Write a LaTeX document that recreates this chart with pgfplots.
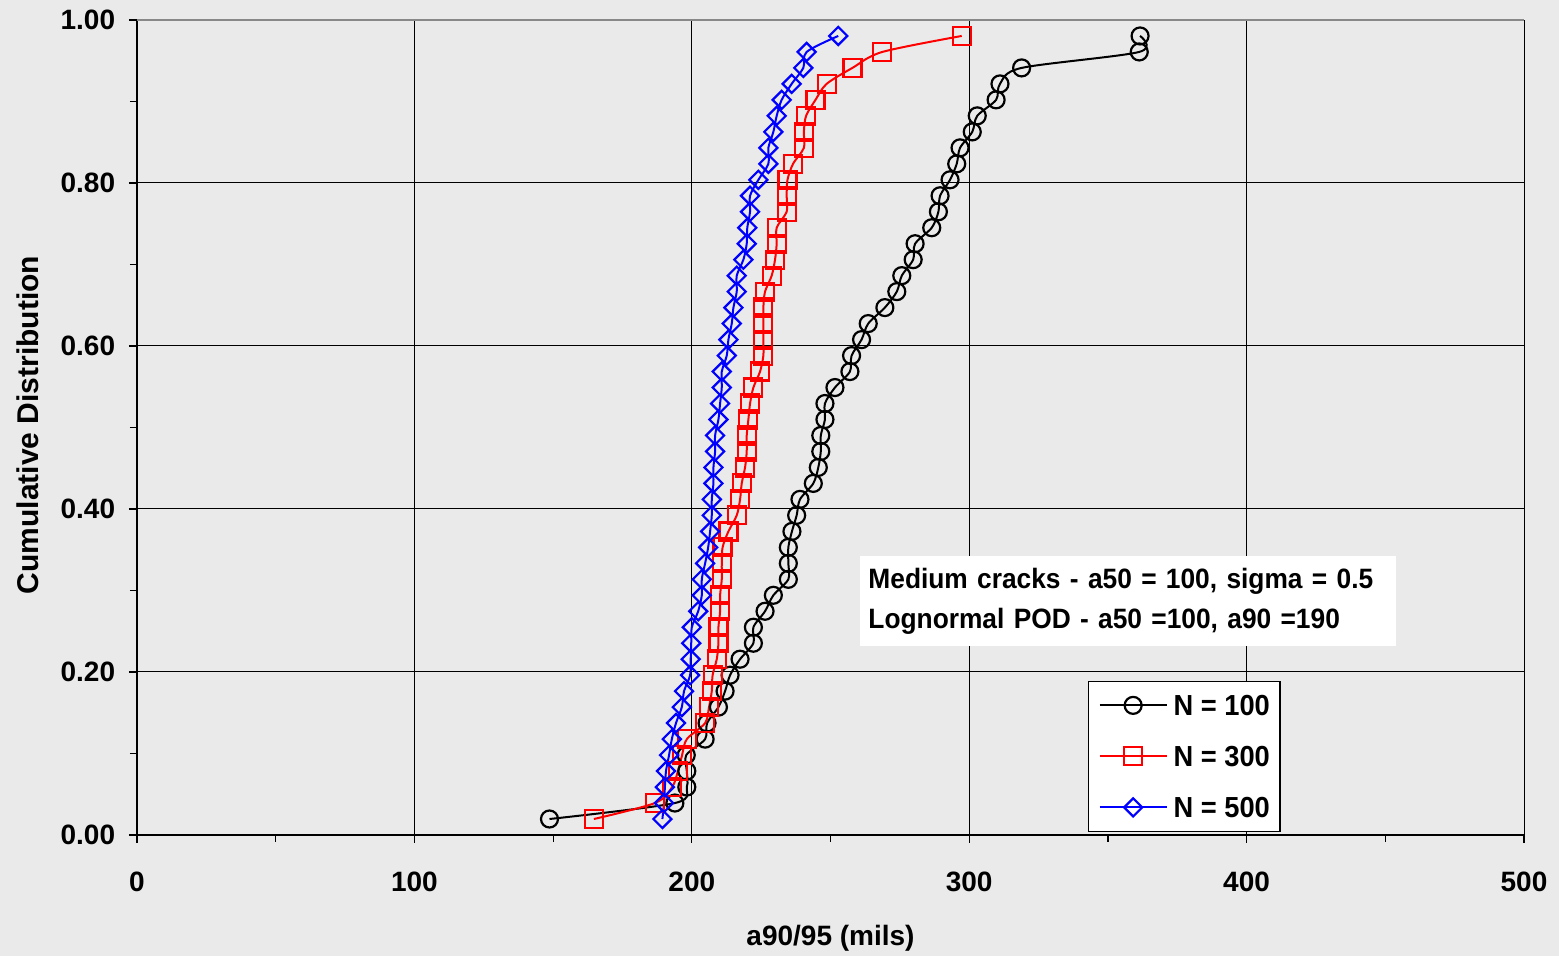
\documentclass[border=0pt]{standalone}
\usepackage{fontspec}
\setmainfont{Liberation Sans}
\newfontfamily\narrowsans{Liberation Sans}[FakeStretch=0.94]
\usepackage{pgfplots}
\usepackage{pgfplotstable}
\pgfplotsset{compat=1.18}
\usetikzlibrary{backgrounds}

\definecolor{panel}{RGB}{234,234,234}
\definecolor{topedge}{RGB}{136,136,136}
\definecolor{seriesred}{RGB}{255,0,0}
\definecolor{seriesblue}{RGB}{0,0,255}

% cumulative probability p = k/51 and sorted a90/95 estimates (mils)
\pgfplotstableread{
p      n100  n300  n500
0.0196 148.7 164.7 189.4
0.0392 193.9 186.7 190.0
0.0588 198.2 192.9 190.3
0.0784 198.2 195.0 190.7
0.0980 198.0 196.5 191.8
0.1176 204.8 198.2 192.8
0.1373 205.5 204.8 194.3
0.1569 209.6 206.2 196.4
0.1765 212.0 207.2 197.2
0.1961 213.8 207.5 199.4
0.2157 217.4 209.0 199.6
0.2353 222.2 209.6 199.8
0.2549 222.2 209.6 200.0
0.2745 226.4 210.2 202.3
0.2941 229.4 210.2 203.6
0.3137 234.8 210.8 203.6
0.3333 234.8 210.8 204.8
0.3529 234.8 211.1 205.9
0.3725 236.1 213.2 206.6
0.3922 237.8 216.2 207.2
0.4118 239.0 217.4 207.2
0.4314 243.8 218.0 207.8
0.4510 245.6 219.2 207.8
0.4706 246.5 219.8 208.4
0.4902 246.5 219.8 208.4
0.5098 248.0 220.4 209.6
0.5294 248.0 221.0 210.2
0.5490 251.6 222.2 210.8
0.5686 257.0 224.6 210.8
0.5882 257.6 225.8 212.6
0.6078 261.2 225.8 213.2
0.6275 263.6 225.8 214.4
0.6471 269.6 225.8 215.0
0.6667 273.9 226.4 216.2
0.6863 275.7 228.8 216.2
0.7059 279.8 230.0 218.6
0.7255 280.5 230.6 219.8
0.7451 286.5 230.6 220.0
0.7647 288.9 234.2 221.0
0.7843 289.5 234.2 221.0
0.8039 293.1 234.5 224.0
0.8235 295.5 236.5 227.6
0.8431 296.7 240.4 227.6
0.8627 301.1 240.4 229.4
0.8824 302.9 241.2 230.6
0.9020 309.7 244.6 232.4
0.9216 311.1 248.6 236.0
0.9412 318.9 257.9 240.2
0.9608 361.3 268.7 241.4
0.9804 361.6 297.3 252.8
}\cdf

\newcommand{\lblfont}{\fontsize{14}{16}\selectfont\bfseries}

\begin{document}
\begin{tikzpicture}
\begin{axis}[
  at={(0pt,0pt)}, anchor=south west,
  scale only axis, width=693.5pt, height=407.5pt,
  xmin=0, xmax=500, ymin=0, ymax=1,
  xtick={0,100,...,500},
  ytick={0,0.2,0.4,0.6,0.8,1.0},
  minor xtick={50,150,250,350,450},
  minor ytick={0.1,0.3,0.5,0.7,0.9},
  axis x line*=bottom, axis y line*=left,
  axis line style={black, line width=1pt},
  tick align=outside,
  major tick length=4pt, minor tick length=3.5pt,
  tick style={black, line width=0.6pt},
  grid=major,
  major grid style={black, line width=0.5pt},
  axis background/.style={fill=panel},
  /pgf/number format/assume math mode=true,
  tick label style={font=\lblfont},
  yticklabel style={/pgf/number format/fixed, /pgf/number format/fixed zerofill,
                    /pgf/number format/precision=2, xshift=-3.4pt},
  xticklabel style={yshift=-11pt},
  xlabel={a90/95 (mils)},
  ylabel={Cumulative Distribution},
  xlabel style={font=\lblfont, at={(axis description cs:0.5,-0.1264)}, anchor=center},
  ylabel style={font=\fontsize{15}{17}\selectfont\bfseries,
                at={(axis description cs:-0.0786,0.503)}, anchor=center},
  legend image code/.code={\draw[mark repeat=2,mark phase=2,#1]
      plot coordinates {(0pt,0pt) (16.75pt,0pt) (33.5pt,0pt)};},
  legend style={at={(0.6857,0.0037)}, anchor=south west,
                draw=black, line width=0.6pt, fill=white,
                font=\narrowsans\fontsize{14.5}{16}\selectfont\bfseries,
                inner xsep=5pt, inner ysep=7pt,
                nodes={inner sep=0pt, text height=10pt, text depth=0pt},
                row sep=15.5pt, column sep=3pt},
  legend cell align=left,
]
\addplot[black, line width=1pt, smooth, mark=o, mark size=4.25pt,
         mark options={solid, line width=1.1pt}]
  table[x=n100, y=p] {\cdf};
\addlegendentry{N = 100}
\addplot[seriesred, line width=1pt, smooth, mark=square, mark size=4.5pt,
         mark options={solid, line width=1.1pt}]
  table[x=n300, y=p] {\cdf};
\addlegendentry{N = 300}
\addplot[seriesblue, line width=1pt, smooth, mark=square, mark size=3.2pt,
         mark options={solid, line width=1.1pt, rotate=45}]
  table[x=n500, y=p] {\cdf};
\addlegendentry{N = 500}

% plot-area frame on the top edge
\draw[topedge, line width=1.5pt] (rel axis cs:0,1) -- (rel axis cs:1,1);

% annotation box
\node[fill=white, anchor=north west, inner xsep=4pt, inner ysep=0pt,
      minimum width=268pt, minimum height=45pt, text width=260pt, align=left,
      font=\narrowsans\fontsize{14}{20}\selectfont\bfseries]
  at (rel axis cs:0.5213,0.3423)
  {Medium cracks - a50 = 100, sigma = 0.5\\Lognormal POD - a50 =100, a90 =190};
\end{axis}

\begin{pgfonlayer}{background}
  \fill[panel] (-68.5pt,-60.5pt) rectangle (711pt,417.5pt);
\end{pgfonlayer}
\pgfresetboundingbox
\path[use as bounding box] (-68.5pt,-60.5pt) rectangle (711pt,417.5pt);
\end{tikzpicture}
\end{document}
